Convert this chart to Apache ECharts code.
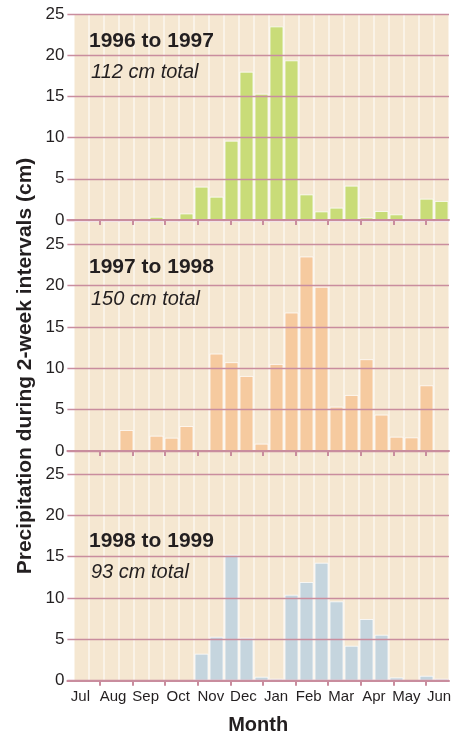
<!DOCTYPE html>
<html>
<head>
<meta charset="utf-8">
<script src="https://cdn.jsdelivr.net/npm/echarts@6/dist/echarts.min.js"></script>
<style>
html,body{margin:0;padding:0;background:#fff;}
#chart{width:459px;height:736px;}
</style>
</head>
<body>
<div id="chart"></div>
<script>
// ---- data ----
const months = ['Jul','Aug','Sep','Oct','Nov','Dec','Jan','Feb','Mar','Apr','May','Jun'];
// 25 two-week intervals, July -> June (cm)
const precip1996 = [0,0,0,0,0,0.4,0,0.8,4.05,2.83,9.63,18.0,15.33,23.5,19.38,3.11,1.05,1.5,4.17,0.32,1.09,0.69,0,2.59,2.31];
const precip1997 = [0,0,0,2.54,0,1.85,1.61,3.02,0,11.77,10.73,9.07,0.89,10.52,16.73,23.5,19.84,5.36,6.77,11.09,4.4,1.73,1.65,7.94,0];
const precip1998 = [0,0,0,0,0,0,0,0,3.27,5.32,15.24,5.2,0.48,0.24,10.4,11.94,14.27,9.6,4.23,7.46,5.56,0.4,0,0.6,0.24];
const panelTitles = ['1996 to 1997','1997 to 1998','1998 to 1999'];
const panelTotals = ['112 cm total','150 cm total','93 cm total'];
const yTickStep = 5;
const yAxisTitle = 'Precipitation during 2-week intervals (cm)';
const xAxisTitle = 'Month';

// ---- layout / style ----
const FONT = '"Liberation Sans", Arial, Helvetica, sans-serif';
const TEXT = '#231f20';
const PINK = '#c98d9e';
const BEIGE = '#f5e7d1';
const colors = ['#c9dc78','#f6ca9f','#c5d5de'];
const series = [precip1996, precip1997, precip1998];
const gridLeft = 67.4, gridRight = 449;
const colStart = 74, colW = 15, monthW = 32.6;
const panels = [
  {top: 14,  bottom: 220,   ymax: 25,    titleY: 41,  totalY: 72},
  {top: 222, bottom: 451,   ymax: 27.66, titleY: 267, totalY: 299},
  {top: 452, bottom: 680.7, ymax: 27.66, titleY: 541, totalY: 572}
];

const grids = [], xAxes = [], yAxes = [], seriesList = [], graphics = [];
const barMin = -(colStart - gridLeft) / colW;
const monthMax = (gridRight - gridLeft) / monthW;
const tickVals = months.slice(1).map((m, i) => i + 1);
const labelVals = months.map((m, i) => i + 0.4);

panels.forEach((p, k) => {
  grids.push({left: gridLeft, width: gridRight - gridLeft, top: p.top, height: p.bottom - p.top,
              containLabel: false, outerBoundsMode: 'none'});
  // hidden axis positioning the bars (2-week columns)
  xAxes.push({gridIndex: k, type: 'value', min: barMin, max: series[k].length, show: false});
  // visible month axis
  xAxes.push({
    gridIndex: k, type: 'value', min: 0, max: monthMax, position: 'bottom', z: 6,
    axisLine: {show: true, lineStyle: {color: PINK, width: 2}},
    axisTick: {show: true, customValues: tickVals, length: 5, lineStyle: {color: PINK, width: 2}},
    axisLabel: {
      show: k === 2, customValues: labelVals, margin: 9,
      color: TEXT, fontFamily: FONT, fontSize: 15,
      formatter: v => months[Math.round(v - 0.4)] || ''
    },
    splitLine: {show: false},
    name: k === 2 ? xAxisTitle : '', nameLocation: 'middle', nameGap: 35,
    nameTextStyle: {color: TEXT, fontFamily: FONT, fontSize: 20, fontWeight: 'bold'}
  });
  yAxes.push({
    gridIndex: k, type: 'value', min: 0, max: p.ymax, interval: yTickStep, z: 5,
    axisLine: {show: false}, axisTick: {show: false},
    axisLabel: {
      color: TEXT, fontFamily: FONT, fontSize: 17, margin: 3,
      showMaxLabel: p.ymax === 25,
      formatter: v => (Math.abs(v % yTickStep) < 1e-6 ? String(v) : '')
    },
    splitLine: {show: true, showMaxLine: p.ymax === 25, lineStyle: {color: PINK, width: 1.3}}
  });
  seriesList.push({
    type: 'bar', xAxisIndex: 2 * k, yAxisIndex: k,
    data: series[k].map((v, i) => [i + 0.5, v]),
    barWidth: 14,
    showBackground: true,
    backgroundStyle: {color: BEIGE},
    itemStyle: {color: colors[k], borderColor: 'rgba(255,255,255,0.75)', borderWidth: 1},
    emphasis: {disabled: true},
    animation: false
  });
  graphics.push({
    type: 'text', x: 89, y: p.titleY, z: 10,
    style: {text: panelTitles[k], fill: TEXT, font: 'bold 21px ' + FONT, verticalAlign: 'middle'}
  });
  graphics.push({
    type: 'text', x: 91, y: p.totalY, z: 10,
    style: {text: panelTotals[k], fill: TEXT, font: 'italic 20px ' + FONT, verticalAlign: 'middle'}
  });
});

graphics.push({
  type: 'text', x: 25, y: 366, rotation: Math.PI / 2, z: 10,
  style: {text: yAxisTitle, fill: TEXT, font: 'bold 21px ' + FONT, align: 'center', verticalAlign: 'middle'}
});

const chart = echarts.init(document.getElementById('chart'), null, {renderer: 'canvas'});
chart.setOption({
  animation: false,
  grid: grids,
  xAxis: xAxes,
  yAxis: yAxes,
  series: seriesList,
  graphic: graphics
});
</script>
</body>
</html>
